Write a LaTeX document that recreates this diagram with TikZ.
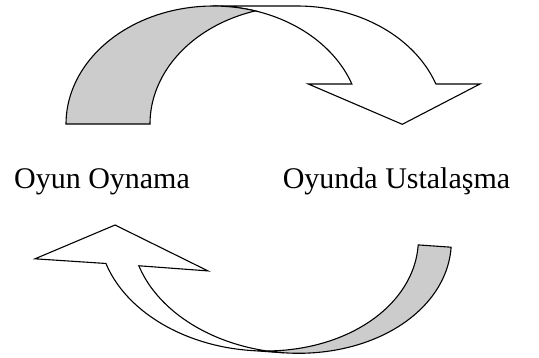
\documentclass[tikz,border=0pt]{standalone}
\usepackage{fontspec}
\setmainfont{Liberation Serif}
\definecolor{bandgray}{RGB}{204,204,204}
\tikzset{
  arrowpart/.style={draw=black, line width=1.1pt, line join=miter},
  backband/.style={arrowpart, fill=bandgray},
  frontband/.style={arrowpart, fill=white},
  label/.style={font=\fontsize{30}{36}\selectfont, anchor=base, inner sep=0pt}
}
\begin{document}
\begin{tikzpicture}[x=1pt,y=-1pt]
\useasboundingbox (0,0) rectangle (539,357);
% top curved arrow (pointing down-right)
\path[frontband] (213.3,6) -- (297.3,6)
  -- plot[domain=90:19.8, samples=40] ({297.3+147.3*cos(\x)},{124-118*sin(\x)})
  -- (480,84) -- (402.3,124.3) -- (308.3,84)
  -- plot[domain=19.8:90, samples=40] ({213.3+147.3*cos(\x)},{124-118*sin(\x)})
  -- cycle;
\path[backband]
  plot[domain=180:73.4, samples=50] ({213.3+147.3*cos(\x)},{124-118*sin(\x)})
  -- plot[domain=106.6:180, samples=50] ({297.3+147.3*cos(\x)},{124-118*sin(\x)})
  -- cycle;
% bottom curved arrow (pointing up-left)
\begin{scope}[rotate around={-4:(270,300)}]
\path[frontband]
  plot[domain=90:159.85, samples=40] ({254+160*cos(\x)},{234.7+117*sin(\x)})
  -- (32.7,275.3) -- (110.2,236) -- (206.1,275.3)
  -- plot[domain=159.85:90, samples=40] ({287+160*cos(\x)},{234.7+117*sin(\x)})
  -- cycle;
\path[backband]
  plot[domain=0:84.1, samples=50] ({254+160*cos(\x)},{234.7+117*sin(\x)})
  -- plot[domain=95.9:0, samples=50] ({287+160*cos(\x)},{234.7+117*sin(\x)})
  -- cycle;
\end{scope}
% labels
\node[label] (play) at (102,188) {Oyun Oynama};
\node[label] (master) at (396.5,188) {Oyunda Ustalaşma};
\end{tikzpicture}
\end{document}
